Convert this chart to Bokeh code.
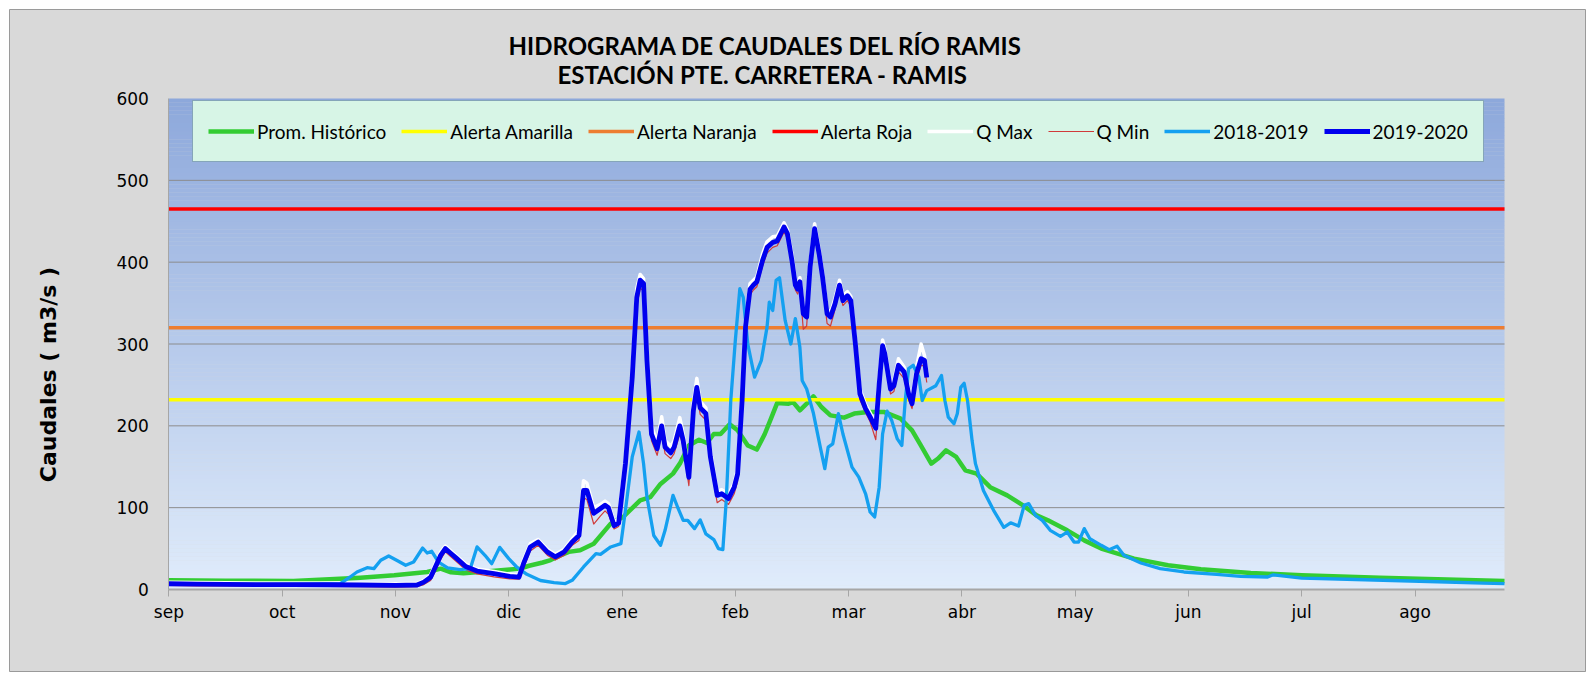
import math
from bokeh.plotting import figure
from bokeh.models import Range1d, FixedTicker, Legend, LegendItem, LinearAxis
from bokeh.core.properties import value
from bokeh.embed import file_html
from bokeh.resources import INLINE

# ---------------- data (x in months since 1 Sep) ----------------
MONTHS = ["sep", "oct", "nov", "dic", "ene", "feb", "mar", "abr", "may", "jun", "jul", "ago"]
X_END = 11.79
Y_TICKS = [0, 100, 200, 300, 400, 500, 600]
GRID_TICKS = [100, 200, 300, 400, 500]

TITLE_1 = "HIDROGRAMA DE CAUDALES DEL RÍO RAMIS"
TITLE_2 = "ESTACIÓN  PTE. CARRETERA - RAMIS"
Y_TITLE = "Caudales ( m3/s )"

ALERTA_AMARILLA = 232
ALERTA_NARANJA = 320
ALERTA_ROJA = 465

# Prom. Histórico
x_hist = [0.00, 0.50, 1.10, 1.69, 1.99, 2.28, 2.40, 2.49, 2.60, 2.80, 3.01, 3.10, 3.18, 3.30, 3.37, 3.46, 3.53, 3.63,
          3.75, 3.90, 4.01, 4.16, 4.25, 4.34, 4.45, 4.51, 4.59, 4.68, 4.75, 4.81, 4.87, 4.95, 5.02, 5.11, 5.19, 5.26,
          5.32, 5.37, 5.47, 5.51, 5.57, 5.63, 5.69, 5.76, 5.84, 5.96, 6.05, 6.17, 6.31, 6.46, 6.56, 6.63, 6.73, 6.79,
          6.86, 6.95, 7.03, 7.13, 7.25, 7.40, 7.54, 7.66, 7.76, 7.93, 8.08, 8.23, 8.52, 8.82, 9.11, 9.55, 10.00,
          10.69, 11.79]
y_hist = [11.2, 10.8, 10.4, 14.5, 17.3, 21.4, 25.5, 21, 20, 22, 24.3, 25.5, 29, 33, 36, 42, 46, 48,
          56, 80.5, 88.6, 109, 113, 129, 141.6, 153.8, 176, 183, 179, 190, 190, 202, 194.5, 176, 171, 190,
          210.7, 228, 227, 229, 219, 227, 236, 223, 212.8, 210, 215, 217, 217, 208.7, 194.5, 178, 153.8, 160,
          170, 162, 145.6, 141.6, 125, 115, 102.8, 90.6, 84.5, 72.3, 60, 50, 37.7, 29.6, 24.7, 20.2, 17.3,
          14.5, 10.4]

# 2018-2019
x_1819 = [0.00, 0.40, 0.81, 1.20, 1.51, 1.60, 1.66, 1.75, 1.81, 1.87, 1.94, 2.01, 2.09, 2.16, 2.24, 2.28, 2.32, 2.38,
          2.46, 2.57, 2.66, 2.72, 2.79, 2.85, 2.92, 3.00, 3.07, 3.16, 3.28, 3.40, 3.50, 3.56, 3.66, 3.77, 3.81, 3.90,
          3.99, 4.03, 4.09, 4.15, 4.19, 4.22, 4.28, 4.34, 4.38, 4.45, 4.49, 4.54, 4.58, 4.64, 4.69, 4.74, 4.81, 4.85,
          4.89, 4.92, 4.96, 5.00, 5.04, 5.07, 5.11, 5.17, 5.23, 5.28, 5.30, 5.33, 5.36, 5.39, 5.44, 5.49, 5.53, 5.57,
          5.59, 5.63, 5.69, 5.75, 5.79, 5.82, 5.86, 5.91, 5.95, 6.03, 6.09, 6.15, 6.19, 6.23, 6.27, 6.30, 6.34, 6.38,
          6.43, 6.47, 6.50, 6.53, 6.57, 6.62, 6.65, 6.69, 6.77, 6.82, 6.85, 6.88, 6.93, 6.96, 6.99, 7.02, 7.05, 7.09,
          7.12, 7.19, 7.28, 7.37, 7.43, 7.50, 7.55, 7.59, 7.65, 7.71, 7.78, 7.87, 7.93, 7.99, 8.03, 8.08, 8.13, 8.23,
          8.30, 8.37, 8.43, 8.58, 8.75, 8.96, 9.25, 9.46, 9.70, 9.75, 10.00, 10.40, 10.80, 11.20, 11.60, 11.79]
y_1819 = [7.2, 6.8, 6.3, 6.5, 7, 15.3, 21.4, 26.7, 25.5, 35.7, 41, 35.7, 29.6, 33.6, 50.7, 44.6, 46.7, 33.6,
          26.3, 24.3, 25.5, 52, 41.8, 31.6, 51.5, 37.7, 27.5, 18.5, 11, 8.4, 7.2, 11.2, 27.5, 43.8, 43, 52,
          56, 96.7, 162, 192.4, 153.8, 113, 66, 54, 72.3, 115, 100.8, 84.5, 84.5, 74.4, 85, 68, 61, 50,
          48.7, 109, 231, 304, 367.5, 357, 300, 259.6, 280, 320.6, 351, 341, 377.7, 381, 328.8, 300, 331, 296,
          255.5, 245, 215, 174, 147.7, 174, 178, 215, 190, 149.6, 137.4, 117, 94.7, 88.6, 125, 190, 218, 206.7,
          184, 176, 231, 270, 274, 259.6, 231, 243, 249, 261.6, 231, 210.7, 202.6, 215, 247, 252, 231, 182,
          153.8, 121, 96.7, 76, 81.5, 77.5, 102.8, 105, 90.6, 84.5, 72.3, 65, 70.2, 58, 58, 74.4, 62, 54,
          48.7, 52.8, 41.8, 32.4, 25.5, 21.4, 18.6, 16.1, 15.3, 18, 14, 12.5, 11, 9.5, 7.8, 7.2]

# 2019-2020 with Q Max / Q Min
x_1920 = [0.00, 0.25, 0.51, 0.80, 1.10, 1.40, 1.69, 2.00, 2.19, 2.25, 2.31, 2.35, 2.40, 2.44, 2.49, 2.54, 2.62, 2.72,
          2.87, 3.01, 3.09, 3.13, 3.19, 3.26, 3.34, 3.41, 3.49, 3.56, 3.62, 3.66, 3.69, 3.75, 3.81, 3.85, 3.88, 3.93,
          3.97, 4.03, 4.09, 4.13, 4.16, 4.19, 4.22, 4.26, 4.31, 4.35, 4.38, 4.43, 4.46, 4.51, 4.54, 4.59, 4.63, 4.66,
          4.69, 4.74, 4.78, 4.84, 4.88, 4.94, 4.99, 5.02, 5.06, 5.09, 5.13, 5.16, 5.19, 5.24, 5.28, 5.33, 5.37, 5.43,
          5.46, 5.50, 5.53, 5.55, 5.57, 5.60, 5.63, 5.66, 5.70, 5.74, 5.77, 5.81, 5.84, 5.88, 5.92, 5.95, 5.99, 6.02,
          6.06, 6.10, 6.15, 6.19, 6.24, 6.27, 6.30, 6.32, 6.37, 6.40, 6.44, 6.49, 6.53, 6.56, 6.60, 6.64, 6.67, 6.69]
y_1920 = [7, 6.5, 6.3, 6, 6, 5.8, 5.5, 5, 5.5, 9, 15, 27, 42, 50, 44, 38, 28, 22.6,
          19.4, 16, 15, 31.6, 52, 58, 46, 40, 46, 58, 66, 121, 121, 93, 99, 103, 100, 78,
          81, 154, 259, 357, 378, 374, 280, 190, 172, 200, 174, 167, 174, 200, 182, 137, 219, 247,
          222, 215, 162, 115, 117, 111, 125, 141, 231, 321, 367, 372, 376, 402, 418, 424, 426, 443,
          435, 402, 372, 367, 376, 337, 333, 394, 441, 410, 382, 337, 333, 349, 372, 353, 359, 353,
          300, 239, 221, 211, 197, 251, 298, 288, 245, 249, 274, 266, 239, 227, 264, 282, 280, 259]
q_max = [9, 8.5, 8.3, 8, 8, 7.8, 7.5, 7, 7.5, 11, 18, 31, 46, 53, 47, 41, 31, 25,
         22, 18.5, 17.5, 36, 56, 61, 49, 43, 49, 62, 72, 133, 130, 100, 104, 108, 105, 83,
         86, 162, 268, 368, 385, 380, 290, 200, 180, 211, 182, 175, 182, 210, 190, 144, 228, 258,
         230, 222, 170, 120, 122, 116, 130, 148, 240, 330, 374, 378, 382, 410, 425, 431, 432, 448,
         440, 410, 378, 372, 381, 343, 338, 400, 447, 416, 388, 343, 338, 356, 378, 359, 364, 358,
         306, 245, 226, 216, 203, 258, 305, 294, 251, 255, 282, 272, 245, 233, 272, 300, 286, 265]
q_min = [5, 4.5, 4.3, 4, 4, 3.8, 3.5, 3, 3.5, 6, 11, 22, 37, 46, 40, 34, 24, 19,
         15.5, 13, 12.5, 26, 47, 54, 42, 36, 42, 54, 60, 112, 110, 80, 90, 96, 92, 74,
         77, 145, 248, 345, 368, 365, 270, 182, 164, 190, 166, 160, 166, 190, 174, 127, 208, 238,
         214, 207, 154, 106, 110, 104, 117, 132, 220, 310, 360, 366, 370, 395, 411, 418, 420, 437,
         429, 394, 366, 361, 369, 318, 322, 386, 434, 402, 375, 325, 322, 342, 365, 347, 353, 346,
         292, 232, 216, 205, 183, 240, 290, 281, 239, 242, 266, 258, 232, 221, 256, 274, 273, 253]

GRAY = "#D9D9D9"

# ---------------- layout geometry (page px) ----------------
W, H = 1577, 663                 # canvas placed at page (9, 9)
PX_LEFT, PX_RIGHT = 168.4, 1504  # plot area, x = 0 .. X_END
PX_TOP, PX_BOTTOM = 98, 589      # plot area, y = 600 .. 0
kx = (PX_RIGHT - PX_LEFT) / X_END
ky = (PX_BOTTOM - PX_TOP) / 600.0
x_lo = (9 - PX_LEFT) / kx
x_hi = (9 + W - PX_LEFT) / kx
y_lo = -((9 + H) - PX_BOTTOM) / ky
y_hi = 600 + (PX_TOP - 9) / ky

p = figure(width=W, height=H, x_range=Range1d(x_lo, x_hi), y_range=Range1d(y_lo, y_hi),
           output_backend="svg", toolbar_location=None, title=None,
           x_axis_location=None, y_axis_location=None, margin=(9, 0, 0, 9),
           min_border_left=0, min_border_right=0, min_border_top=0, min_border_bottom=0)
p.border_fill_color = GRAY
p.background_fill_color = GRAY
p.outline_line_color = "#9A9A9A"
p.grid.visible = False

# vertical gradient of the plot area
n = 120
c_top = (141, 168, 219)
c_bot = (224, 236, 251)
bots, tops, cols = [], [], []
for i in range(n):
    t = (i + 0.5) / n
    r = round(c_bot[0] + (c_top[0] - c_bot[0]) * t)
    g = round(c_bot[1] + (c_top[1] - c_bot[1]) * t)
    b = round(c_bot[2] + (c_top[2] - c_bot[2]) * t)
    bots.append(600 * i / n)
    tops.append(min(600, 600 * (i + 1) / n + 0.3))
    cols.append("#%02x%02x%02x" % (r, g, b))
p.quad(left=0, right=X_END, bottom=bots, top=tops, fill_color=cols, line_color=None, level="image")

# horizontal grid lines, limited to the plot area
p.segment(x0=[0] * len(GRID_TICKS), x1=[X_END] * len(GRID_TICKS), y0=GRID_TICKS, y1=GRID_TICKS,
          line_color="#8C8C8C", line_width=1, level="underlay")

# axes fixed at the plot area's edges
xaxis = LinearAxis(fixed_location=0, bounds=(0, X_END), ticker=FixedTicker(ticks=list(range(12))))
xaxis.major_label_overrides = {i: m for i, m in enumerate(MONTHS)}
xaxis.axis_line_color = "#A6A6A6"
xaxis.axis_line_width = 2
xaxis.major_tick_line_color = "#A6A6A6"
xaxis.major_tick_out = 7
xaxis.major_tick_in = 0
xaxis.minor_tick_out = 0
xaxis.minor_tick_in = 0
xaxis.major_label_standoff = 5

yaxis = LinearAxis(fixed_location=0, bounds=(0, 600), ticker=FixedTicker(ticks=Y_TICKS))
yaxis.axis_line_color = "#A6A6A6"
yaxis.major_tick_out = 0
yaxis.major_tick_in = 0
yaxis.minor_tick_out = 0
yaxis.minor_tick_in = 0
yaxis.major_label_standoff = 20

for ax in (xaxis, yaxis):
    ax.major_label_text_font = "DejaVu Sans"
    ax.major_label_text_font_size = "17px"
    ax.major_label_text_color = "#000000"
p.add_layout(xaxis, "below")
p.add_layout(yaxis, "left")

# series
r_hist = p.line(x_hist, y_hist, line_color="#33CC33", line_width=4.5, line_join="round")
r_yel = p.line([0, X_END], [ALERTA_AMARILLA, ALERTA_AMARILLA], line_color="#FFFF00", line_width=3.5)
r_ora = p.line([0, X_END], [ALERTA_NARANJA, ALERTA_NARANJA], line_color="#ED7D31", line_width=3.5)
r_red = p.line([0, X_END], [ALERTA_ROJA, ALERTA_ROJA], line_color="#FF0000", line_width=3.5)
r_qmax = p.line(x_1920, q_max, line_color="#FFFFFF", line_width=3.5, line_join="round")
r_qmin = p.line(x_1920, q_min, line_color="#D03A3A", line_width=1.2, line_join="round")
r_1819 = p.line(x_1819, y_1819, line_color="#14A0F0", line_width=3.3, line_join="round")
r_1920 = p.line(x_1920, y_1920, line_color="#0000EE", line_width=4.8, line_join="round")

legend = Legend(items=[
    LegendItem(label="Prom. Histórico", renderers=[r_hist]),
    LegendItem(label="Alerta Amarilla", renderers=[r_yel]),
    LegendItem(label="Alerta Naranja", renderers=[r_ora]),
    LegendItem(label="Alerta Roja", renderers=[r_red]),
    LegendItem(label="Q Max", renderers=[r_qmax]),
    LegendItem(label="Q Min", renderers=[r_qmin]),
    LegendItem(label="2018-2019", renderers=[r_1819]),
    LegendItem(label="2019-2020", renderers=[r_1920]),
], orientation="horizontal", location=(183, 9 + H - 162))
legend.background_fill_color = "#D7F5E6"
legend.background_fill_alpha = 1.0
legend.border_line_color = "#34558C"
legend.border_line_width = 1
legend.label_text_font = "Lato"
legend.label_text_font_size = "19px"
legend.label_text_color = "#000000"
legend.glyph_width = 46
legend.glyph_height = 30
legend.label_height = 30
legend.label_standoff = 3
legend.spacing = 15
legend.padding = 15
legend.margin = 0
p.add_layout(legend)

# titles (data space above the plot area)
p.text(x=[(765 - PX_LEFT) / kx] * 2,
       y=[600 + (PX_TOP - 44.5) / ky, 600 + (PX_TOP - 74) / ky],
       text=[TITLE_1, TITLE_2],
       text_font=value("Lato"), text_font_style="bold", text_font_size="24px",
       text_align="center", text_baseline="middle", text_color="#000000")
# y-axis title
p.text(x=[(47.6 - PX_LEFT) / kx], y=[(PX_BOTTOM - 374) / ky], text=[Y_TITLE], angle=math.pi / 2,
       text_font=value("DejaVu Sans"), text_font_style="bold", text_font_size="22px",
       text_align="center", text_baseline="middle", text_color="#000000")

open("out.html", "w").write(file_html(p, INLINE))
